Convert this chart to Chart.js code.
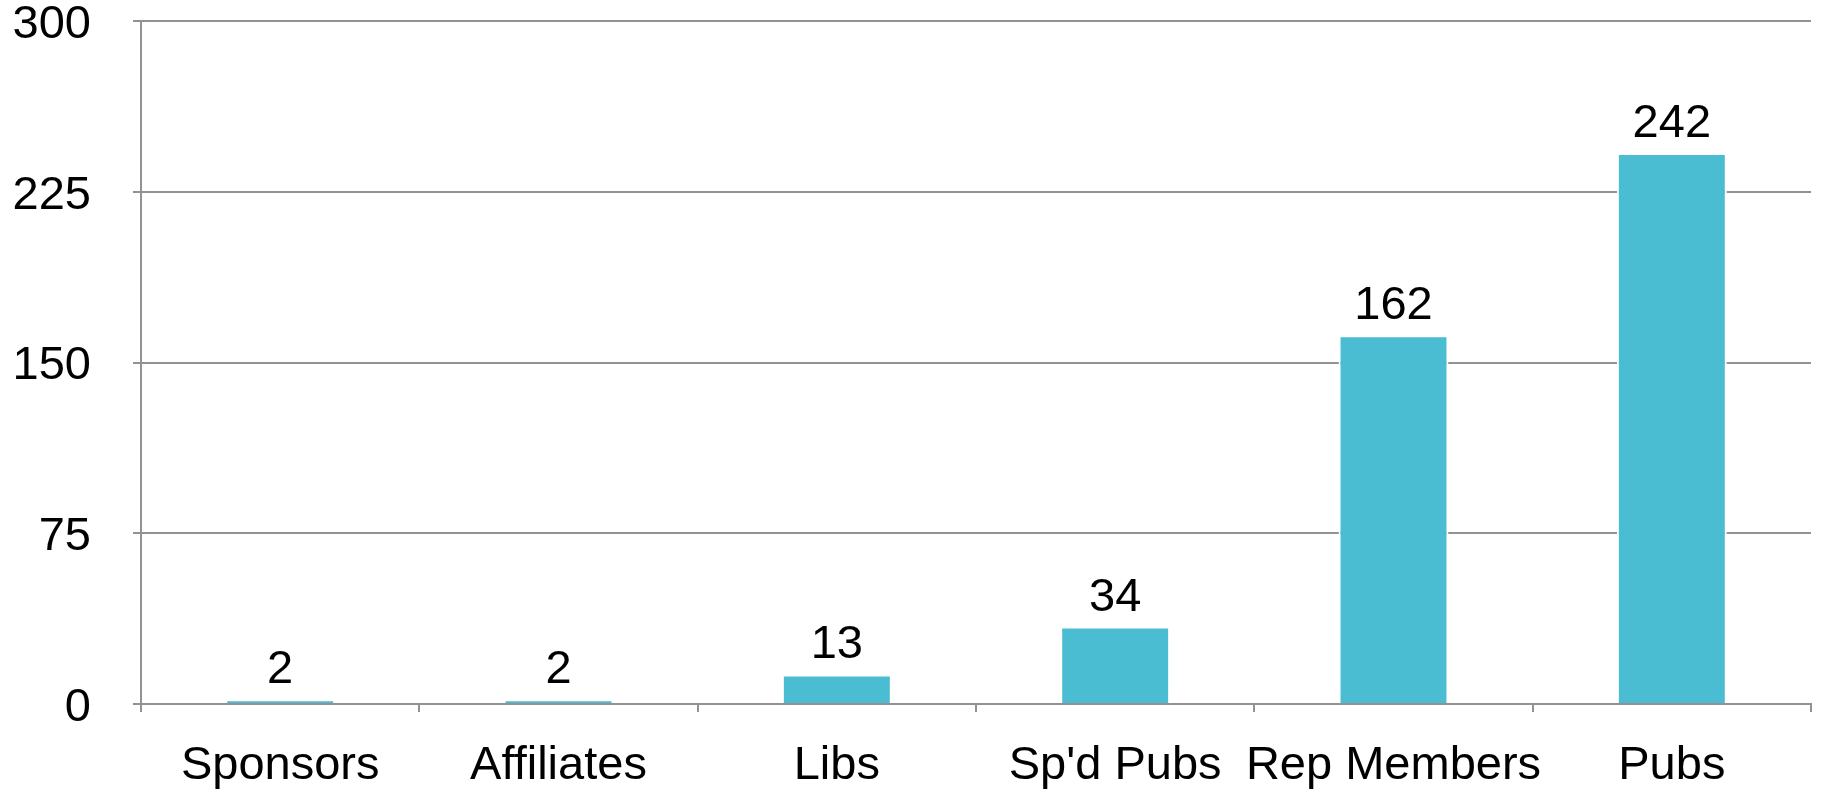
<!DOCTYPE html>
<html>
<head>
<meta charset="utf-8">
<script src="https://cdn.jsdelivr.net/npm/chart.js@4"></script>
<style>
  html, body { margin: 0; padding: 0; background: #ffffff; }
  #wrap { width: 1827px; height: 792px; position: relative; }
</style>
</head>
<body>
<div id="wrap"><canvas id="c" width="1827" height="792"></canvas></div>
<script>
const categories = ["Sponsors", "Affiliates", "Libs", "Sp'd Pubs", "Rep Members", "Pubs"];
const counts = [2, 2, 13, 34, 162, 242];
const yTicks = [0, 75, 150, 225, 300];

const GRID = '#929292';
const BAR = '#4BBDD2';
const FONT = "'Liberation Sans', Arial, Helvetica, sans-serif";

const valueLabels = {
  id: 'valueLabels',
  afterDatasetsDraw(chart) {
    const ctx = chart.ctx;
    const meta = chart.getDatasetMeta(0);
    ctx.save();
    ctx.fillStyle = '#000';
    ctx.font = '47px ' + FONT;
    ctx.textAlign = 'center';
    ctx.textBaseline = 'middle';
    meta.data.forEach((bar, i) => {
      ctx.fillText(String(counts[i]), bar.x, bar.y - 29);
    });
    ctx.restore();
  }
};

new Chart(document.getElementById('c'), {
  type: 'bar',
  data: {
    labels: categories,
    datasets: [{
      data: counts,
      backgroundColor: BAR,
      borderColor: '#ffffff',
      borderWidth: 2,
      borderSkipped: 'bottom',
      barPercentage: 0.395,
      categoryPercentage: 1.0
    }]
  },
  options: {
    responsive: false,
    animation: false,
    events: [],
    layout: { padding: { top: 21, right: 16, bottom: 0, left: 0 } },
    plugins: { legend: { display: false }, tooltip: { enabled: false } },
    scales: {
      x: {
        grid: {
          offset: true,
          drawOnChartArea: true,
          color: (c) => (c.index === categories.length ? GRID : 'rgba(0,0,0,0)'),
          tickColor: GRID,
          lineWidth: 2,
          tickLength: 8
        },
        border: { display: true, color: GRID, width: 2 },
        ticks: {
          color: '#000',
          font: { family: FONT, size: 47, lineHeight: 1.0 },
          padding: 31,
          maxRotation: 0,
          autoSkip: false
        },
        afterFit(scale) {
          scale.height = 88;
          scale.paddingLeft = 0; scale.paddingRight = 0;
          scale.paddingTop = 0; scale.paddingBottom = 0;
        }
      },
      y: {
        min: 0,
        max: 300,
        afterBuildTicks(scale) { scale.ticks = yTicks.map(v => ({ value: v })); },
        grid: { color: GRID, lineWidth: 2, tickLength: 8, tickColor: GRID },
        border: { display: true, color: GRID, width: 2 },
        ticks: {
          color: '#000',
          font: { family: FONT, size: 47, lineHeight: 1.0 },
          padding: 42,
          labelOffset: 4
        },
        afterFit(scale) {
          scale.width = 141;
          scale.paddingTop = 0; scale.paddingBottom = 0;
          scale.paddingLeft = 0; scale.paddingRight = 0;
        }
      }
    }
  },
  plugins: [valueLabels]
});
</script>
</body>
</html>
